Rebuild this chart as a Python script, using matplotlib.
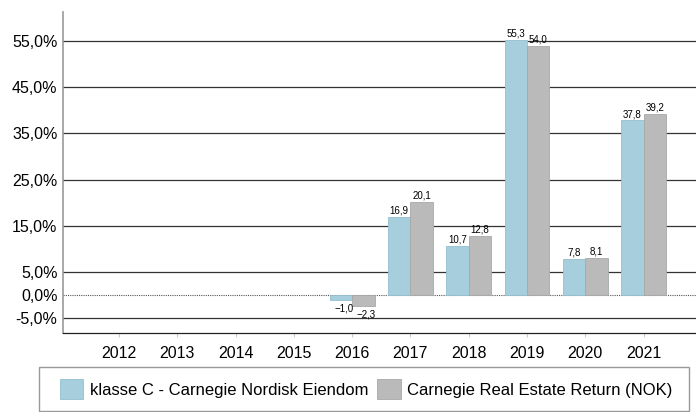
import numpy as np
import matplotlib
matplotlib.use("Agg")
import matplotlib.pyplot as plt
from matplotlib.patches import Rectangle

plt.rcParams['font.family'] = ['Liberation Sans', 'DejaVu Sans']

# data
years = ['2012', '2013', '2014', '2015', '2016', '2017', '2018', '2019', '2020', '2021']
fund = [np.nan, np.nan, np.nan, np.nan, -1.0, 16.9, 10.7, 55.3, 7.8, 37.8]
bench = [np.nan, np.nan, np.nan, np.nan, -2.3, 20.1, 12.8, 54.0, 8.1, 39.2]
series_names = ['klasse C - Carnegie Nordisk Eiendom', 'Carnegie Real Estate Return (NOK)']
yticks = [-5, 0, 5, 15, 25, 35, 45, 55]

blue = '#A6CEDC'
grey = '#BABABA'

fig = plt.figure(figsize=(6.96, 4.12), dpi=100)
ax = fig.add_axes([63 / 696, 1 - 333 / 412, 1 - 63 / 696, (333 - 12) / 412])

x = np.arange(len(years))
w = 0.385
b1 = ax.bar(x - w / 2, fund, w, color=blue, edgecolor='#95BFCD', linewidth=0.6,
            label=series_names[0], zorder=3)
b2 = ax.bar(x + w / 2, bench, w, color=grey, edgecolor='#A8A8A8', linewidth=0.6,
            label=series_names[1], zorder=3)

def fmt(v):
    s = f'{abs(v):.1f}'.replace('.', ',')
    return ('\u2212' + s) if v < 0 else s

for bars, vals in ((b1, fund), (b2, bench)):
    for rect, v in zip(bars, vals):
        if np.isnan(v):
            continue
        cx = rect.get_x() + rect.get_width() / 2
        if v >= 0:
            ax.annotate(fmt(v), (cx, v), xytext=(0, 1), textcoords='offset points',
                        ha='center', va='bottom', fontsize=7, zorder=4)
        else:
            ax.annotate(fmt(v), (cx, v), xytext=(2, -2.5), textcoords='offset points',
                        ha='center', va='top', fontsize=7, zorder=4)

# grid lines
for t in yticks:
    if t == 0:
        ax.axhline(t, color='#555555', lw=0.8, ls=(0, (1, 1)), zorder=1)
    else:
        ax.axhline(t, color='#333333', lw=0.9, zorder=1)

ax.set_xlim(-0.96, 9.9)
ax.set_ylim(-8.25, 61.3)
ax.set_yticks(yticks)
ax.set_yticklabels([f'{t:.1f}%'.replace('.', ',') for t in yticks], fontsize=11.5)
ax.set_xticks(x)
ax.set_xticklabels(years, fontsize=11.5)
ax.tick_params(axis='y', length=0, pad=4)
ax.tick_params(axis='x', length=3, color='#CCCCCC', pad=6)

for s in ['top', 'right']:
    ax.spines[s].set_visible(False)
ax.spines['left'].set_color('#999999')
ax.spines['left'].set_linewidth(1.2)
ax.spines['bottom'].set_color('#222222')
ax.spines['bottom'].set_linewidth(0.9)

# legend with its own frame
fig.patches.append(Rectangle((39 / 696, 1 / 412), (689 - 39) / 696, (411 - 367) / 412,
                             transform=fig.transFigure, fill=False,
                             edgecolor='#999999', lw=1.0))
fig.legend(handles=[b1, b2], loc='center', bbox_to_anchor=(0.526, 1 - 389 / 412),
           ncol=2, frameon=False, fontsize=12, handlelength=1.4, handleheight=1.4,
           handletextpad=0.4, columnspacing=0.55)

fig.savefig('out.png', dpi=100)
